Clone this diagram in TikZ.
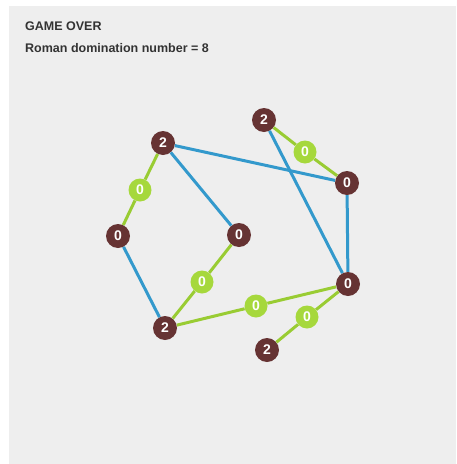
\documentclass[tikz,border=0pt]{standalone}
\usepackage{fontspec}
\setmainfont{Liberation Sans}
\usepackage{tikz}
\usetikzlibrary{positioning}

\definecolor{bgGray}{HTML}{EEEEEE}
\definecolor{vertexBrown}{HTML}{663333}
\definecolor{vertexGreen}{HTML}{A6D83C}
\definecolor{edgeGreen}{HTML}{99CC33}
\definecolor{edgeBlue}{HTML}{3399CC}
\definecolor{titleGray}{HTML}{333333}

\begin{document}
\begin{tikzpicture}[
  x=1pt, y=-1pt,
  vertex/.style={circle, inner sep=0pt, minimum size=24pt,
                 font=\fontsize{14}{14}\selectfont\bfseries, text=white},
  dominator/.style={vertex, fill=vertexBrown},
  helper/.style={vertex, fill=vertexGreen, minimum size=23pt},
  bluelink/.style={line width=3pt, draw=edgeBlue},
  greenlink/.style={line width=3pt, draw=edgeGreen},
  heading/.style={anchor=base west, inner sep=0pt, text=titleGray,
                  font=\fontsize{12.5}{12.5}\selectfont\bfseries}
]

\useasboundingbox (0,0) rectangle (456,464);
\fill[bgGray] (9,6) rectangle (456,464);

\node[heading] (title) at (25,30) {GAME OVER};
\node[heading] (score) at (25,52) {Roman domination number = 8};

% left part
\node[dominator] (a2) at (163,143) {2};
\node[helper]    (g1) at (140,190) {0};
\node[dominator] (a0) at (118,236) {0};
\node[dominator] (m0) at (239,235) {0};
\node[helper]    (g2) at (202,282) {0};
\node[dominator] (b2) at (165,328) {2};
\node[helper]    (g3) at (256,306) {0};

% right part
\node[dominator] (t2) at (264,120) {2};
\node[helper]    (g4) at (305,152) {0};
\node[dominator] (r0) at (347,183) {0};
\node[dominator] (s0) at (348,284) {0};
\node[helper]    (g5) at (307,317) {0};
\node[dominator] (c2) at (267,350) {2};

\draw[bluelink] (a2) -- (r0);
\draw[bluelink] (a2) -- (m0);
\draw[bluelink] (a0) -- (b2);
\draw[bluelink] (t2) -- (s0);
\draw[bluelink] (r0) -- (s0);

\draw[greenlink] (a2) -- (g1) -- (a0);
\draw[greenlink] (m0) -- (g2) -- (b2);
\draw[greenlink] (b2) -- (g3) -- (s0);
\draw[greenlink] (t2) -- (g4) -- (r0);
\draw[greenlink] (s0) -- (g5) -- (c2);

\end{tikzpicture}
\end{document}
